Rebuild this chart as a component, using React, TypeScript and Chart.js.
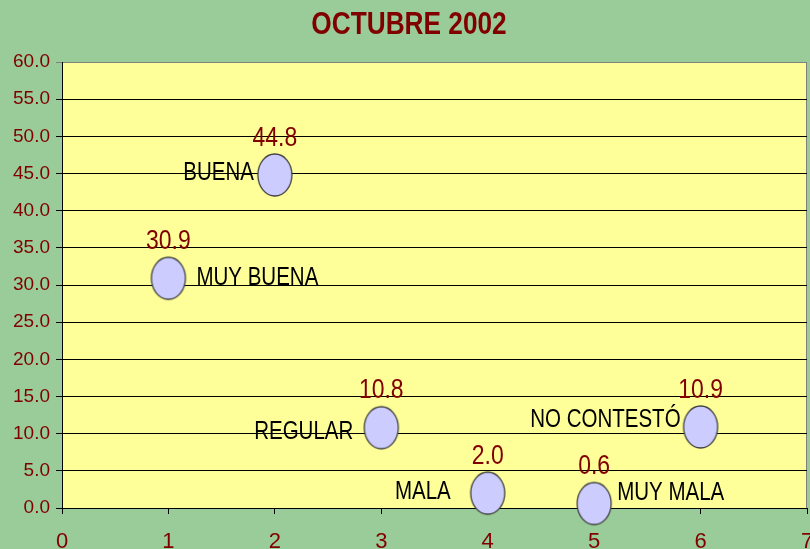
import React, { useEffect, useRef } from "react";
import { Chart, registerables } from "chart.js";

Chart.register(...registerables);

const categories = ["MUY BUENA", "BUENA", "REGULAR", "MALA", "MUY MALA", "NO CONTESTÓ"];
const xValues = [1, 2, 3, 4, 5, 6];
const yValues = [30.9, 44.8, 10.8, 2.0, 0.6, 10.9];
const titleText = "OCTUBRE 2002";

// label placement (style only): side of point and offsets in px
const labelSide = ["right", "left", "left", "left", "right", "left"];
const labelOffset = [28, 21, 28, 37, 23, 20];
const labelDy = [0, -2, 4, -1, -10, -7];

const FONT = "'Liberation Sans', Arial, sans-serif";
const DARK_RED = "#800000";
const NARROW = 0.82;

function makeEllipse(): HTMLCanvasElement {
  const c = document.createElement("canvas");
  c.width = 38;
  c.height = 46;
  const ctx = c.getContext("2d")!;
  ctx.beginPath();
  ctx.ellipse(19, 23, 17, 21, 0, 0, Math.PI * 2);
  ctx.fillStyle = "#CCCCFF";
  ctx.fill();
  ctx.lineWidth = 1.3;
  ctx.strokeStyle = "#404040";
  ctx.stroke();
  return c;
}

function narrowText(ctx: CanvasRenderingContext2D, text: string, x: number, y: number, align: CanvasTextAlign) {
  ctx.save();
  ctx.translate(x, y);
  ctx.scale(NARROW, 1);
  ctx.textAlign = align;
  ctx.fillText(text, 0, 0);
  ctx.restore();
}

const bgPlugin = {
  id: "bgPlugin",
  beforeDraw(chart: any) {
    const { ctx, chartArea, width, height } = chart;
    ctx.save();
    ctx.fillStyle = "#99CC99";
    ctx.fillRect(0, 0, width, height);
    ctx.fillStyle = "#FFFF99";
    ctx.fillRect(chartArea.left, chartArea.top, chartArea.right - chartArea.left, chartArea.bottom - chartArea.top);
    ctx.strokeStyle = "#808080";
    ctx.lineWidth = 1;
    ctx.beginPath();
    ctx.moveTo(chartArea.right - 0.5, chartArea.top);
    ctx.lineTo(chartArea.right - 0.5, chartArea.bottom);
    ctx.stroke();
    // title
    ctx.fillStyle = DARK_RED;
    ctx.font = `bold 32px ${FONT}`;
    ctx.textBaseline = "middle";
    narrowText(ctx, titleText, width / 2 + 4, 25, "center");
    ctx.restore();
  },
  afterDatasetsDraw(chart: any) {
    const { ctx } = chart;
    const xs = chart.scales.x;
    const ys = chart.scales.y;
    ctx.save();
    ctx.textBaseline = "middle";
    for (let i = 0; i < yValues.length; i++) {
      const px = xs.getPixelForValue(xValues[i]);
      const py = ys.getPixelForValue(yValues[i]);
      ctx.font = `28px ${FONT}`;
      ctx.fillStyle = DARK_RED;
      narrowText(ctx, yValues[i].toFixed(1), px, py - 37, "center");
      ctx.fillStyle = "#000000";
      ctx.font = `25px ${FONT}`;
      if (labelSide[i] === "left") {
        narrowText(ctx, categories[i], px - labelOffset[i], py + labelDy[i], "right");
      } else {
        narrowText(ctx, categories[i], px + labelOffset[i], py + labelDy[i], "left");
      }
    }
    ctx.restore();
  },
};

export default function App() {
  const ref = useRef<HTMLCanvasElement>(null);
  useEffect(() => {
    document.body.style.margin = "0";
    const ellipse = makeEllipse();
    const chart = new Chart(ref.current!, {
      type: "scatter",
      data: {
        labels: categories,
        datasets: [
          {
            data: xValues.map((x, i) => ({ x, y: yValues[i] })),
            pointStyle: ellipse as any,
            pointRadius: 20,
            pointHoverRadius: 20,
            clip: false as any,
          },
        ],
      },
      options: {
        animation: false,
        responsive: false,
        events: [],
        layout: { autoPadding: false, padding: { left: 0, right: 3, top: 62, bottom: 0 } },
        plugins: {
          legend: { display: false },
          tooltip: { enabled: false },
          title: { display: false },
        },
        scales: {
          x: {
            type: "linear",
            min: 0,
            max: 7,
            ticks: {
              stepSize: 1,
              color: DARK_RED,
              font: { family: FONT, size: 22 },
              padding: 15,
            },
            grid: { drawOnChartArea: false, drawTicks: true, tickLength: 6, color: "#000000" },
            border: { color: "#000000", width: 1 },
            afterFit(scale: any) {
              scale.height = 41;
              scale.paddingLeft = 0;
              scale.paddingRight = 0;
            },
          },
          y: {
            min: 0,
            max: 60,
            ticks: {
              stepSize: 5,
              color: DARK_RED,
              font: { family: FONT, size: 19 },
              padding: 6,
              callback: (v: any) => Number(v).toFixed(1),
            },
            grid: {
              color: (c: any) => (c.tick && c.tick.value === 60 ? "#808080" : "#000000"),
              tickLength: 6,
              lineWidth: 1,
            },
            border: { color: "#000000", width: 1 },
            afterFit(scale: any) {
              scale.width = 62;
              scale.paddingTop = 0;
              scale.paddingBottom = 0;
            },
          },
        },
      },
      plugins: [bgPlugin],
    });
    return () => chart.destroy();
  }, []);
  return (
    <div style={{ position: "absolute", left: 0, top: 0, width: 810, height: 549 }}>
      <canvas ref={ref} width={810} height={549} style={{ display: "block" }} />
    </div>
  );
}
